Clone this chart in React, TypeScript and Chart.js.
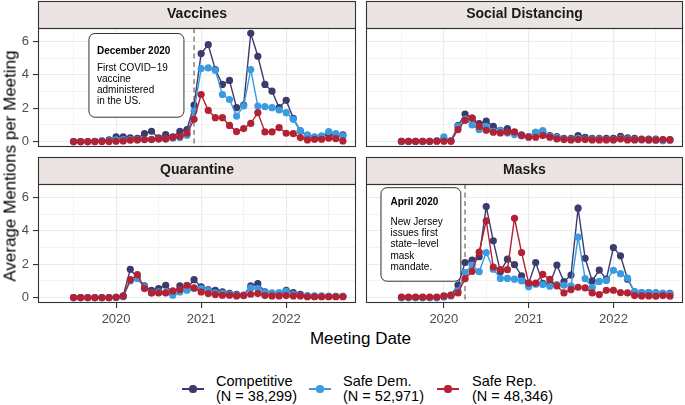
import React, { useEffect, useRef } from 'react';
import { Chart, registerables } from 'chart.js';

Chart.register(...registerables);

const FONT = '"Liberation Sans", Arial, Helvetica, sans-serif';

// ---------- categories / ticks ----------
const MONTHS = [
  '2019-07', '2019-08', '2019-09', '2019-10', '2019-11', '2019-12',
  '2020-01', '2020-02', '2020-03', '2020-04', '2020-05', '2020-06',
  '2020-07', '2020-08', '2020-09', '2020-10', '2020-11', '2020-12',
  '2021-01', '2021-02', '2021-03', '2021-04', '2021-05', '2021-06',
  '2021-07', '2021-08', '2021-09', '2021-10', '2021-11', '2021-12',
  '2022-01', '2022-02', '2022-03', '2022-04', '2022-05', '2022-06',
  '2022-07', '2022-08', '2022-09',
];
const YEAR_TICKS = ['2020-01', '2021-01', '2022-01'];
const YEAR_LABELS = ['2020', '2021', '2022'];
const HALF_YEAR_GRID = ['2019-07', '2020-07', '2021-07', '2022-07'];
const Y_TICKS = [0, 2, 4, 6];
const Y_MINOR = [1, 3, 5];

const SERIES = ['Competitive', 'Safe Dem.', 'Safe Rep.'];
const SERIES_N = ['(N = 38,299)', '(N = 52,971)', '(N = 48,346)'];
const COLORS = ['#3C3B6E', '#3A9BE0', '#B22234'];

// ---------- series values ----------
const VACCINES_COMP = [0, 0, 0, 0.02, 0.05, 0.1, 0.28, 0.28, 0.22, 0.2, 0.48, 0.62, 0.22, 0.42, 0.28, 0.62, 0.72, 2.19, 5.27, 5.8, 4.31, 3.42, 3.66, 2.03, 2.19, 6.48, 5.11, 3.42, 3.02, 2.03, 2.47, 1.39, 0.64, 0.35, 0.25, 0.3, 0.45, 0.38, 0.4];
const VACCINES_DEM = [0, 0, 0, 0, 0.05, 0.05, 0.1, 0.12, 0.12, 0.12, 0.12, 0.14, 0.15, 0.15, 0.2, 0.25, 0.38, 1.83, 4.37, 4.41, 4.27, 2.82, 2.52, 1.53, 2.13, 4.31, 2.13, 2.09, 2.03, 1.89, 1.73, 1.33, 0.64, 0.4, 0.28, 0.34, 0.6, 0.48, 0.34];
const VACCINES_REP = [0, 0, 0, 0, 0, 0, 0.02, 0.04, 0.08, 0.1, 0.12, 0.12, 0.16, 0.16, 0.26, 0.32, 0.5, 1.33, 2.82, 1.87, 1.43, 1.43, 0.97, 0.6, 0.78, 1.09, 1.73, 0.58, 0.58, 0.84, 0.5, 0.48, 0.24, 0.1, 0.14, 0.14, 0.2, 0.18, 0.04];

const SOCIAL_COMP = [0.02, 0.02, 0.02, 0.02, 0.02, 0.05, 0.15, 0.05, 0.95, 1.65, 1.4, 1.07, 1.23, 0.91, 0.68, 0.78, 0.55, 0.4, 0.3, 0.55, 0.6, 0.36, 0.3, 0.2, 0.2, 0.36, 0.25, 0.2, 0.2, 0.2, 0.2, 0.32, 0.22, 0.2, 0.15, 0.15, 0.15, 0.1, 0.12];
const SOCIAL_DEM = [0, 0, 0, 0, 0, 0.05, 0.28, 0.05, 0.9, 1.35, 1.0, 0.72, 0.91, 0.62, 0.68, 0.52, 0.42, 0.35, 0.3, 0.56, 0.66, 0.3, 0.25, 0.15, 0.15, 0.2, 0.15, 0.15, 0.15, 0.12, 0.12, 0.2, 0.15, 0.12, 0.1, 0.1, 0.1, 0.05, 0.08];
const SOCIAL_REP = [0.02, 0.02, 0.02, 0.02, 0.02, 0.02, 0.02, 0.02, 0.72, 1.27, 1.41, 0.91, 0.68, 0.56, 0.52, 0.58, 0.58, 0.36, 0.26, 0.26, 0.36, 0.26, 0.16, 0.12, 0.1, 0.12, 0.12, 0.1, 0.1, 0.1, 0.1, 0.15, 0.1, 0.1, 0.12, 0.1, 0.08, 0.12, 0.1];

const QUAR_COMP = [0, 0, 0, 0, 0, 0, 0.02, 0.1, 1.69, 1.2, 0.7, 0.44, 0.54, 0.74, 0.24, 0.7, 0.55, 1.07, 0.64, 0.48, 0.44, 0.34, 0.25, 0.2, 0.15, 0.7, 0.83, 0.35, 0.25, 0.25, 0.44, 0.3, 0.2, 0.1, 0.08, 0.08, 0.08, 0.08, 0.08];
const QUAR_DEM = [0, 0, 0, 0, 0, 0, 0.02, 0.05, 1.0, 1.13, 0.64, 0.28, 0.34, 0.3, 0.14, 0.34, 0.44, 0.54, 0.54, 0.44, 0.28, 0.25, 0.2, 0.15, 0.12, 0.58, 0.54, 0.3, 0.28, 0.3, 0.38, 0.2, 0.12, 0.1, 0.1, 0.1, 0.08, 0.08, 0.08];
const QUAR_REP = [0, 0, 0, 0, 0, 0, 0.02, 0.08, 1.07, 1.37, 0.54, 0.28, 0.28, 0.28, 0.4, 0.48, 0.74, 0.58, 0.34, 0.24, 0.18, 0.14, 0.14, 0.1, 0.12, 0.2, 0.24, 0.12, 0.1, 0.1, 0.12, 0.1, 0.1, 0.05, 0.05, 0.05, 0.05, 0.05, 0.05];

const MASKS_COMP = [0, 0, 0, 0, 0, 0, 0.05, 0.15, 0.75, 2.1, 2.25, 2.45, 5.45, 3.4, 1.55, 2.3, 1.97, 1.3, 0.85, 2.1, 0.85, 0.8, 1.95, 0.95, 1.35, 5.35, 2.35, 1.0, 1.65, 1.1, 3.0, 2.5, 1.1, 0.35, 0.3, 0.3, 0.28, 0.25, 0.25];
const MASKS_DEM = [0, 0, 0, 0, 0, 0, 0.05, 0.1, 0.4, 1.5, 1.95, 1.55, 2.7, 1.7, 1.15, 1.15, 1.1, 1.0, 0.65, 0.8, 0.78, 0.68, 0.78, 0.74, 0.7, 3.62, 1.13, 0.6, 0.97, 1.03, 1.63, 1.43, 1.17, 0.34, 0.3, 0.3, 0.28, 0.25, 0.22];
const MASKS_REP = [0.03, 0.03, 0.03, 0.03, 0.03, 0.03, 0.1, 0.14, 0.28, 1.13, 1.57, 2.72, 4.6, 1.83, 1.67, 1.67, 4.75, 2.7, 0.87, 0.87, 1.39, 1.09, 0.7, 0.28, 0.48, 0.62, 0.58, 0.28, 0.18, 0.44, 0.44, 0.3, 0.28, 0.12, 0.1, 0.1, 0.08, 0.12, 0.08];

// ---------- annotations ----------
const VACCINE_NOTE_DATE = '2020-12';
const VACCINE_NOTE_HEAD = 'December 2020';
const VACCINE_NOTE_LINES = ['First COVID\u221219', 'vaccine', 'administered', 'in the US.'];
const MASK_NOTE_DATE = '2020-04';
const MASK_NOTE_HEAD = 'April 2020';
const MASK_NOTE_LINES = ['New Jersey', 'issues first', 'state\u2212level', 'mask', 'mandate.'];

// ---------- helpers ----------
function monthIndex(m: string): number {
  const [y, mo] = m.split('-').map(Number);
  return (y - 2019) * 12 + (mo - 7);
}
const X_MIN = -5.02;
const X_MAX = 39.85;
const Y_MIN = -0.324;
const Y_MAX = 6.8;
const YEAR_IDX = YEAR_TICKS.map(monthIndex);
const X_GRID = [...HALF_YEAR_GRID, ...YEAR_TICKS].map(monthIndex).sort((a, b) => a - b);
const Y_GRID = [...Y_TICKS, ...Y_MINOR].sort((a, b) => a - b);

type Note = {
  date: string;
  head: string;
  lines: string[];
  box: { x0: number; x1: number; y0: number; y1: number };
  headOffset: number;
  bodyOffset: number;
  lineStep: number;
  inset: number;
};

type PanelSpec = {
  title: string;
  series: number[][];
  showX: boolean;
  showY: boolean;
  note?: Note;
  left: number;
  top: number;
  width: number;
  height: number;
  padding: { left: number; right: number; top: number; bottom: number };
};

function roundRectPath(ctx: CanvasRenderingContext2D, x: number, y: number, w: number, h: number, r: number) {
  ctx.beginPath();
  ctx.moveTo(x + r, y);
  ctx.lineTo(x + w - r, y);
  ctx.arcTo(x + w, y, x + w, y + r, r);
  ctx.lineTo(x + w, y + h - r);
  ctx.arcTo(x + w, y + h, x + w - r, y + h, r);
  ctx.lineTo(x + r, y + h);
  ctx.arcTo(x, y + h, x, y + h - r, r);
  ctx.lineTo(x, y + r);
  ctx.arcTo(x, y, x + r, y, r);
  ctx.closePath();
}

function makeDecoPlugin(note?: Note) {
  return {
    id: 'facetDeco',
    beforeDraw(chart: any) {
      const { ctx, chartArea } = chart;
      const tb = chart.titleBlock;
      if (!tb) return;
      ctx.save();
      ctx.fillStyle = '#EBE4E2';
      ctx.fillRect(chartArea.left, tb.top, chartArea.right - chartArea.left, chartArea.top - tb.top);
      ctx.strokeStyle = '#333333';
      ctx.lineWidth = 1.1;
      ctx.strokeRect(chartArea.left + 0.5, tb.top + 0.5, chartArea.right - chartArea.left - 1, chartArea.top - tb.top);
      ctx.restore();
    },
    beforeDatasetsDraw(chart: any) {
      if (!note) return;
      const { ctx, chartArea, scales } = chart;
      const x = scales.x.getPixelForValue(monthIndex(note.date));
      ctx.save();
      ctx.strokeStyle = '#7E6E5E';
      ctx.lineWidth = 1.3;
      ctx.setLineDash([5, 3.5]);
      ctx.beginPath();
      ctx.moveTo(x, chartArea.top);
      ctx.lineTo(x, chartArea.bottom);
      ctx.stroke();
      ctx.restore();
    },
    afterDatasetsDraw(chart: any) {
      if (!note) return;
      const { ctx, scales } = chart;
      const x0 = scales.x.getPixelForValue(note.box.x0);
      const x1 = scales.x.getPixelForValue(note.box.x1);
      const y0 = scales.y.getPixelForValue(note.box.y0);
      const y1 = scales.y.getPixelForValue(note.box.y1);
      ctx.save();
      roundRectPath(ctx, x0 + 0.5, y0 + 0.5, x1 - x0, y1 - y0, 6);
      ctx.fillStyle = '#FFFFFF';
      ctx.fill();
      ctx.strokeStyle = '#1A1A1A';
      ctx.lineWidth = 0.9;
      ctx.stroke();
      ctx.fillStyle = '#000000';
      ctx.textAlign = 'left';
      ctx.textBaseline = 'middle';
      ctx.font = `bold 10px ${FONT}`;
      ctx.fillText(note.head, x0 + note.inset, y0 + note.headOffset);
      ctx.font = `10px ${FONT}`;
      note.lines.forEach((ln, i) => {
        ctx.fillText(ln, x0 + note.inset, y0 + note.bodyOffset + i * note.lineStep);
      });
      ctx.restore();
    },
    afterDraw(chart: any) {
      const { ctx, chartArea } = chart;
      ctx.save();
      ctx.strokeStyle = '#333333';
      ctx.lineWidth = 1.1;
      ctx.strokeRect(chartArea.left + 0.5, chartArea.top + 0.5, chartArea.right - chartArea.left - 1, chartArea.bottom - chartArea.top - 1);
      ctx.restore();
    },
  };
}

function buildConfig(spec: PanelSpec): any {
  const datasets = spec.series.map((vals, s) => ({
    label: SERIES[s],
    data: MONTHS.map((m, i) => ({ x: monthIndex(m), y: vals[i] })),
    borderColor: COLORS[s],
    backgroundColor: COLORS[s],
    pointBackgroundColor: COLORS[s],
    pointBorderWidth: 0,
    pointRadius: 3.6,
    borderWidth: 1.4,
    tension: 0,
    order: 3 - s,
  }));
  const isMajorX = (v: number) => YEAR_IDX.includes(v);
  const isMajorY = (v: number) => Y_TICKS.includes(v);
  return {
    type: 'line',
    data: { datasets },
    plugins: [makeDecoPlugin(spec.note)],
    options: {
      animation: false,
      responsive: false,
      maintainAspectRatio: false,
      devicePixelRatio: 1,
      events: [],
      layout: { padding: spec.padding, autoPadding: false },
      plugins: {
        legend: { display: false },
        tooltip: { enabled: false },
        title: {
          display: true,
          text: spec.title,
          fullSize: false,
          align: 'center',
          color: '#1A1A1A',
          font: { family: FONT, size: 14, weight: 'bold', lineHeight: 1.2 },
          padding: { top: 5, bottom: 5.2 },
        },
      },
      scales: {
        x: {
          type: 'linear',
          min: X_MIN,
          max: X_MAX,
          border: { display: false },
          afterBuildTicks: (scale: any) => {
            scale.ticks = X_GRID.map((v) => ({ value: v }));
          },
          afterFit: (scale: any) => {
            scale.height = spec.showX ? 23 : 0;
            scale.paddingLeft = 0;
            scale.paddingRight = 0;
          },
          grid: {
            color: '#EBEBEB',
            lineWidth: (c: any) => (c.tick && isMajorX(c.tick.value) ? 1.1 : 0.6),
            drawTicks: spec.showX,
            tickLength: 5,
            tickWidth: 1.1,
            tickColor: (c: any) => (c.tick && isMajorX(c.tick.value) ? '#333333' : 'rgba(0,0,0,0)'),
          },
          ticks: {
            display: spec.showX,
            autoSkip: false,
            maxRotation: 0,
            minRotation: 0,
            padding: 4,
            color: '#4D4D4D',
            font: { family: FONT, size: 13 },
            callback: (v: number) => {
              const k = YEAR_IDX.indexOf(v);
              return k >= 0 ? YEAR_LABELS[k] : '';
            },
          },
        },
        y: {
          type: 'linear',
          min: Y_MIN,
          max: Y_MAX,
          border: { display: false },
          afterBuildTicks: (scale: any) => {
            scale.ticks = Y_GRID.map((v) => ({ value: v }));
          },
          afterFit: (scale: any) => {
            scale.width = spec.showY ? 38 : 0;
            scale.paddingTop = 0;
            scale.paddingBottom = 0;
          },
          grid: {
            color: '#EBEBEB',
            lineWidth: (c: any) => (c.tick && isMajorY(c.tick.value) ? 1.1 : 0.6),
            drawTicks: spec.showY,
            tickLength: 5,
            tickWidth: 1.1,
            tickColor: (c: any) => (c.tick && isMajorY(c.tick.value) ? '#333333' : 'rgba(0,0,0,0)'),
          },
          ticks: {
            display: spec.showY,
            autoSkip: false,
            padding: 4,
            color: '#4D4D4D',
            font: { family: FONT, size: 13 },
            callback: (v: number) => (Y_TICKS.includes(v) ? String(v) : ''),
          },
        },
      },
    },
  };
}

const PANELS: PanelSpec[] = [
  {
    title: 'Vaccines',
    series: [VACCINES_COMP, VACCINES_DEM, VACCINES_REP],
    showX: false,
    showY: true,
    note: {
      date: VACCINE_NOTE_DATE,
      head: VACCINE_NOTE_HEAD,
      lines: VACCINE_NOTE_LINES,
      box: { x0: 2.1, x1: 15.5, y0: 6.5, y1: 1.49 },
      headOffset: 18.5,
      bodyOffset: 35.5,
      lineStep: 11,
      inset: 8.5,
    },
    left: 0, top: 0, width: 360, height: 150,
    padding: { left: 0, right: 4, top: 1, bottom: 3 },
  },
  {
    title: 'Social Distancing',
    series: [SOCIAL_COMP, SOCIAL_DEM, SOCIAL_REP],
    showX: false,
    showY: false,
    left: 362, top: 0, width: 323, height: 150,
    padding: { left: 4, right: 2, top: 1, bottom: 3 },
  },
  {
    title: 'Quarantine',
    series: [QUAR_COMP, QUAR_DEM, QUAR_REP],
    showX: true,
    showY: true,
    left: 0, top: 154, width: 360, height: 172,
    padding: { left: 0, right: 4, top: 3, bottom: 0 },
  },
  {
    title: 'Masks',
    series: [MASKS_COMP, MASKS_DEM, MASKS_REP],
    showX: true,
    showY: false,
    note: {
      date: MASK_NOTE_DATE,
      head: MASK_NOTE_HEAD,
      lines: MASK_NOTE_LINES,
      box: { x0: -2.97, x1: 8.33, y0: 6.61, y1: 1.01 },
      headOffset: 15.5,
      bodyOffset: 35,
      lineStep: 11.2,
      inset: 10,
    },
    left: 362, top: 154, width: 323, height: 172,
    padding: { left: 4, right: 2, top: 3, bottom: 0 },
  },
];

function Panel({ spec }: { spec: PanelSpec }) {
  const ref = useRef<HTMLCanvasElement | null>(null);
  useEffect(() => {
    if (!ref.current) return;
    const chart = new Chart(ref.current, buildConfig(spec));
    return () => chart.destroy();
  }, [spec]);
  return (
    <canvas
      ref={ref}
      width={spec.width}
      height={spec.height}
      style={{ position: 'absolute', left: spec.left, top: spec.top, width: spec.width, height: spec.height }}
    />
  );
}

const LEGEND_POS = [
  { sym: 182, text: 216 },
  { sym: 309, text: 343 },
  { sym: 437, text: 472 },
];

export default function App() {
  return (
    <div
      style={{
        position: 'fixed',
        left: 0,
        top: 0,
        width: 685,
        height: 405,
        background: '#FFFFFF',
        overflow: 'hidden',
        fontFamily: FONT,
      }}
    >
      {PANELS.map((p) => (
        <Panel key={p.title} spec={p} />
      ))}
      <div
        style={{
          position: 'absolute',
          left: 9.5,
          top: 166,
          transform: 'translate(-50%, -50%) rotate(-90deg)',
          whiteSpace: 'nowrap',
          fontSize: 17,
          color: '#000',
          lineHeight: 1,
        }}
      >
        Average Mentions per Meeting
      </div>
      <div
        style={{
          position: 'absolute',
          left: 360.5,
          top: 338,
          transform: 'translate(-50%, -50%)',
          whiteSpace: 'nowrap',
          fontSize: 17,
          color: '#000',
          lineHeight: 1,
        }}
      >
        Meeting Date
      </div>
      {SERIES.map((name, i) => (
        <React.Fragment key={name}>
          <div
            style={{
              position: 'absolute',
              left: LEGEND_POS[i].sym,
              top: 388.3,
              width: 22,
              height: 1.4,
              background: COLORS[i],
            }}
          />
          <div
            style={{
              position: 'absolute',
              left: LEGEND_POS[i].sym + 11 - 3.6,
              top: 389 - 3.6,
              width: 7.2,
              height: 7.2,
              borderRadius: '50%',
              background: COLORS[i],
            }}
          />
          <div
            style={{
              position: 'absolute',
              left: LEGEND_POS[i].text,
              top: 374,
              fontSize: 14.5,
              lineHeight: '15px',
              color: '#000',
              whiteSpace: 'nowrap',
            }}
          >
            <div>{name}</div>
            <div>{SERIES_N[i]}</div>
          </div>
        </React.Fragment>
      ))}
    </div>
  );
}
